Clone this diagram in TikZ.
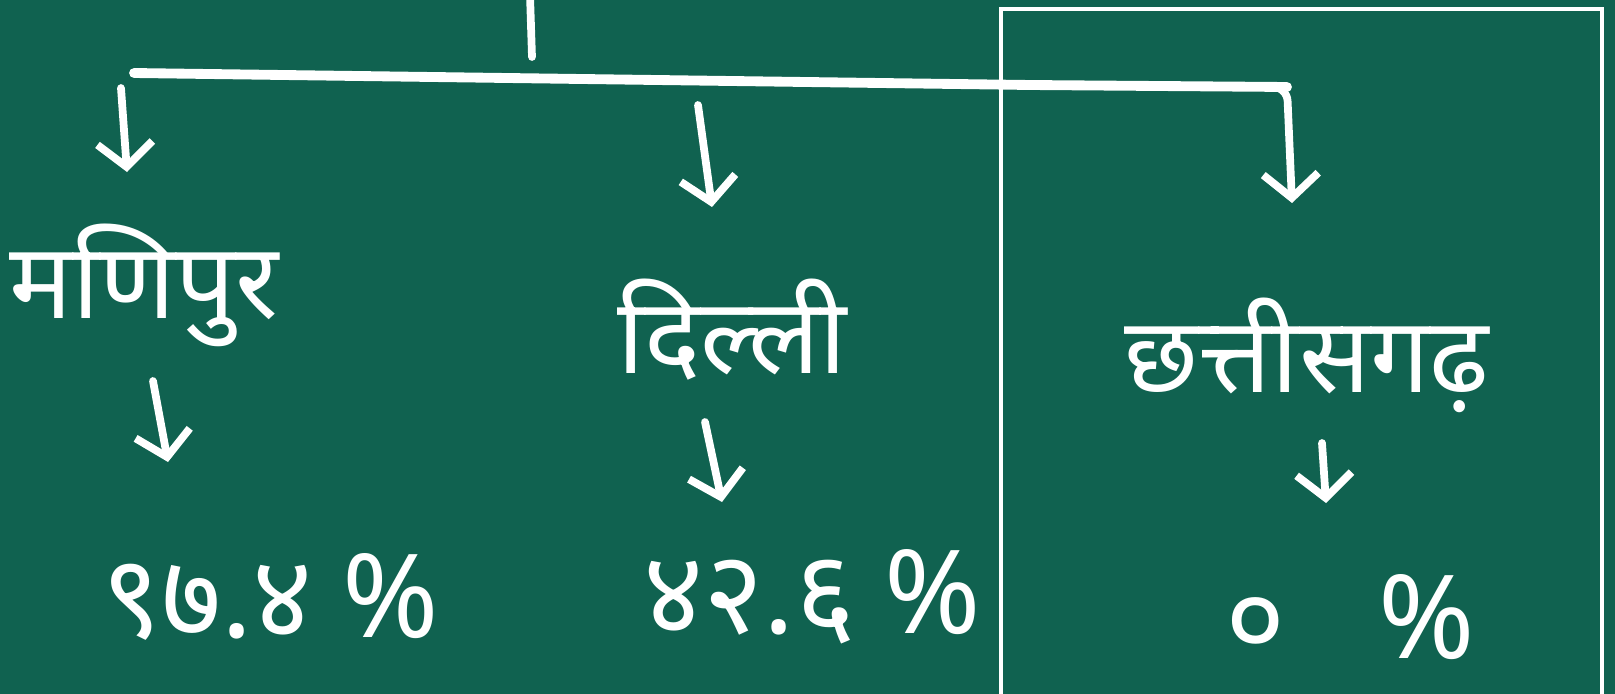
\documentclass[tikz,border=0pt]{standalone}
\usepackage{fontspec}
\newfontfamily\devfont[Script=Devanagari]{Noto Sans}
\usetikzlibrary{arrows.meta}
\definecolor{board}{RGB}{16,98,80}
\tikzset{
  chalk/.style={draw=white, line width=2.2pt, line cap=round, line join=round},
  chalkarrow/.style={chalk, -{Straight Barb[length=2.4mm, width=5.5mm, line width=2.2pt]}},
  statename/.style={text=white, font=\devfont\fontsize{30}{36}\selectfont},
  share/.style={text=white, font=\devfont\fontsize{33}{40}\selectfont}
}
\begin{document}
\begin{tikzpicture}[x=0.01cm, y=-0.01cm]
\fill[board] (0,0) rectangle (1615,694);
\useasboundingbox (0,0) rectangle (1615,694);

% frame round the last branch
\draw[white, line width=0.9pt] (1001,9) rectangle (1602,720);

% labels
\node[statename] (mani)  at (144,285)  {मणिपुर};
\node[statename] (delhi) at (732,330)  {दिल्ली};
\node[statename] (chhat) at (1307,355) {छत्तीसगढ़};

\node[share] (maniP)  at (270,597)  {९७.४\hspace{0.25em}\%};
\node[share] (delhiP) at (812,597)  {४२.६\hspace{0.25em}\%};
\node[share] (chhatP) at (1350,617) {०\hspace{0.8em}\%};

% bar and arrow ends
\coordinate (stemTop) at (530,-5);
\coordinate (stemEnd) at (532,57);
\coordinate (barL) at (134,73);
\coordinate (barM) at (1030,85);
\coordinate (barR) at (1287,87);
\coordinate (maniIn) at (121,88);
\coordinate (maniTip) at (127,172);
\coordinate (delhiIn) at (698,105);
\coordinate (delhiTip) at (712,207);
\coordinate (chhatTip) at (1292,203);
\coordinate (maniOut) at (153,381);
\coordinate (maniPin) at (168,462);
\coordinate (delhiOut) at (705,422);
\coordinate (delhiPin) at (722,502);
\coordinate (chhatOut) at (1322,443);
\coordinate (chhatPin) at (1326,503);

\draw[chalk] (stemTop) -- (stemEnd);
\draw[chalk, line width=2.8pt, rounded corners=4pt] (barL) -- (barM) -- (barR);
\draw[chalkarrow, rounded corners=4pt] (barM) -- (barR) -- (chhatTip);
\draw[chalkarrow] (maniIn) -- (maniTip);
\draw[chalkarrow] (delhiIn) -- (delhiTip);

\draw[chalkarrow] (maniOut) -- (maniPin);
\draw[chalkarrow] (delhiOut) -- (delhiPin);
\draw[chalkarrow] (chhatOut) -- (chhatPin);
\end{tikzpicture}
\end{document}
